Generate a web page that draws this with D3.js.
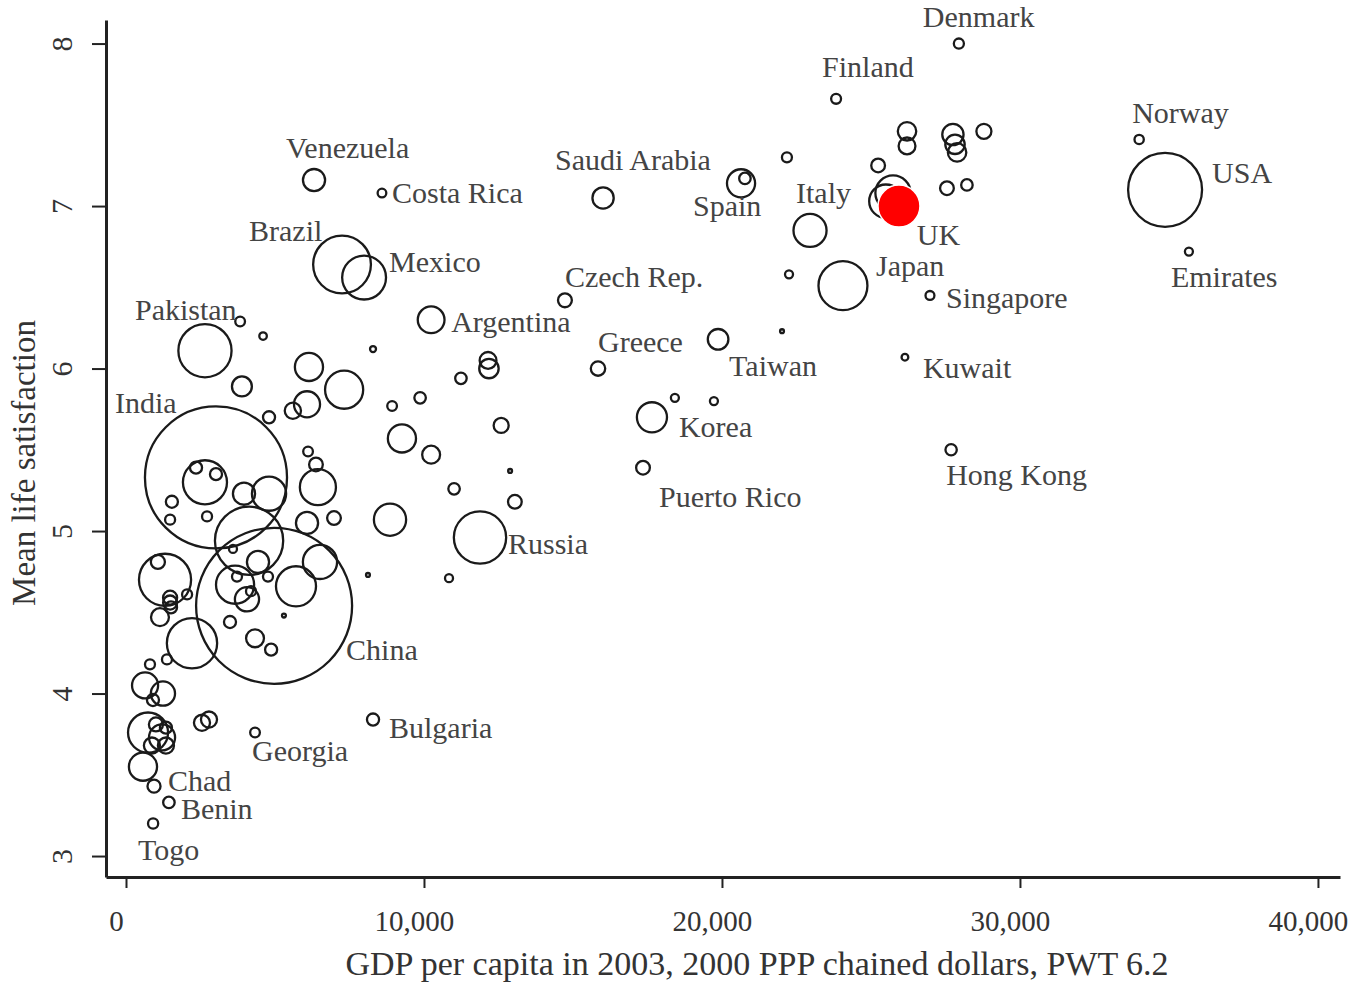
<!DOCTYPE html>
<html>
<head>
<meta charset="utf-8">
<script src="https://cdn.jsdelivr.net/npm/d3@7"></script>
<style>
  body { margin: 0; background: #fff; }
  text { font-family: "Liberation Serif", "DejaVu Serif", serif; }
</style>
</head>
<body>
<script>
// countries ('' = unlabelled), GDP per capita 2003, mean life satisfaction, population (millions)
const countries = [
  "Denmark", "Finland", "Norway", "USA", "Emirates", "Saudi Arabia", "Spain", "", "Italy", "UK", "",
  "Japan", "Singapore", "Kuwait", "Hong Kong", "Taiwan", "Greece", "Czech Rep.", "Korea", "Puerto Rico",
  "Russia", "Argentina", "Mexico", "Brazil", "Costa Rica", "Venezuela", "Pakistan", "India", "China",
  "Bulgaria", "Georgia", "Chad", "Benin", "Togo",
  "", "", "", "", "", "", "", "", "", "", "", "", "", "", "", "", "", "", "", "", "", "", "", "", "",
  "", "", "", "", "", "", "", "", "", "", "", "", "", "", "", "", "", "", "", "", "", "", "", "", "",
  "", "", "", "", "", "", "", "", "", "", "", "", "", "", "", "", "", "", "", "", "", "", "", "", "",
  "", "", "", "", "", "", "", "", "", "", ""
];
const gdp = [
  27950, 23830, 34000, 34870, 35670, 16010, 20640, 20770, 22955, 25500, 25740,
  24060, 26980, 26140, 27690, 19870, 15840, 14730, 17650, 17350,
  11880, 10240, 7990, 7250, 8590, 6310, 2650, 3020, 4970,
  8290, 4330, 940, 1440, 910,
  22180, 26210, 26210, 27750, 27820, 27890, 28790, 25240, 27550, 28220, 22250, 22015, 18420, 19730, 8290,
  12150, 12180, 11240, 9870, 8930, 12590, 9260, 10240, 12890, 11010, 13050, 8860, 10840, 8120, 4600,
  6140, 7320, 3890, 6075, 5600, 4800, 3830, 6110, 6375, 6440, 3960, 4800, 6075, 6980, 2650, 2350,
  3020, 1540, 2720, 1480, 4130, 3590, 4430, 6510, 5705, 3660, 4060, 3725, 4195, 4765, 5300, 3490,
  4330, 4870, 2215, 1310, 1070, 1480, 1480, 1510, 2050, 1140, 1375, 805, 640, 1240, 905, 2550, 2785,
  740, 1210, 1005, 870, 1340, 1340, 570, 1110
];
const lifeSat = [
  8.00, 7.66, 7.41, 7.10, 6.72, 7.05, 7.14, 7.17, 6.85, 7.03, 7.08,
  6.51, 6.45, 6.07, 5.50, 6.18, 6.00, 6.42, 5.70, 5.39,
  4.96, 6.30, 6.56, 6.64, 7.08, 7.16, 6.11, 5.33, 4.54,
  3.84, 3.76, 3.43, 3.33, 3.20,
  7.30, 7.46, 7.37, 7.44, 7.38, 7.33, 7.46, 7.25, 7.11, 7.13, 6.58, 6.23, 5.82, 5.80, 6.12,
  6.05, 6.00, 5.94, 5.82, 5.77, 5.65, 5.57, 5.47, 5.37, 5.26, 5.18, 5.07, 4.71, 4.73, 6.20,
  6.01, 5.87, 5.89, 5.78, 5.74, 5.70, 6.29, 5.49, 5.41, 5.27, 5.23, 5.23, 5.05, 5.08, 5.30, 5.39,
  5.35, 5.18, 5.09, 5.07, 4.94, 4.89, 4.81, 4.81, 4.66, 4.67, 4.58, 4.72, 4.63, 4.72, 4.48, 4.44,
  4.34, 4.27, 4.31, 4.70, 4.81, 4.59, 4.56, 4.53, 4.61, 4.47, 4.21, 4.18, 4.05, 4.00, 3.96, 3.82, 3.84,
  3.76, 3.73, 3.81, 3.68, 3.68, 3.79, 3.55, 3.60
];
const population = [
  5.4, 5.2, 4.6, 290, 3.4, 24, 42, 7, 58, 59, 66,
  127, 4.2, 2.4, 6.8, 22.5, 11, 10.2, 48, 10,
  145, 38, 102, 177, 4, 26, 150, 1070, 1290,
  7.8, 5, 9, 7, 5.5,
  5.3, 18, 15, 24, 20, 18, 12, 10, 10, 7, 3.4, 0.8, 3.4, 3.4, 1.9,
  15, 20, 7, 7, 5, 12, 42, 17, 0.8, 7, 10, 55, 3.4, 0.8, 3,
  42, 77, 21, 36, 14, 7.7, 5, 5, 10, 69, 26, 62, 26, 10, 103, 7.7,
  7.7, 7.7, 5.3, 5.3, 247, 3.4, 26, 62, 85, 77, 31, 5.3, 5.3, 5.3, 0.8, 7.7,
  17, 7.7, 134, 144, 10.5, 10.5, 10.5, 7.7, 5.3, 17, 5.3, 5.3, 36, 31, 7.7, 13.7, 13.7,
  85, 36, 10.5, 13.7, 13.7, 7.7, 42, 13.7
];
// highlighted point (UK)
const highlightGdp = 25940;
const highlightSat = 7.00;

const xTicks = [0, 10000, 20000, 30000, 40000];
const yTicks = [3, 4, 5, 6, 7, 8];

// label placement relative to the circle centre (px)
const labelOffset = {
  "Denmark": [-36, -17], "Finland": [-14, -22], "Norway": [-7, -16], "USA": [47, -7],
  "Emirates": [-18, 35], "Saudi Arabia": [-48, -28], "Spain": [-48, 33], "Italy": [-14, -27],
  "UK": [31, 44], "Japan": [33, -10], "Singapore": [16, 13], "Kuwait": [18, 21],
  "Hong Kong": [-5, 35], "Taiwan": [11, 37], "Greece": [0, -17], "Czech Rep.": [0, -13],
  "Korea": [27, 20], "Puerto Rico": [16, 39], "Russia": [28, 16], "Argentina": [20, 12],
  "Mexico": [25, -6], "Brazil": [-93, -24], "Costa Rica": [10, 10], "Venezuela": [-28, -22],
  "Pakistan": [-70, -31], "India": [-101, -64], "China": [72, 54], "Bulgaria": [16, 18],
  "Georgia": [-3, 28], "Chad": [14, 5], "Benin": [12, 17], "Togo": [-15, 36]
};

const data = countries.map((c, i) => ({name: c, gdp: gdp[i], sat: lifeSat[i], pop: population[i]}));

const width = 1352, height = 987;
const svg = d3.select("body").append("svg")
  .attr("width", width)
  .attr("height", height);

const x = d3.scaleLinear().domain([-671, 40740]).range([106, 1340]);
const y = d3.scaleLinear().domain([2.871, 8.145]).range([877, 20]);
const r = d3.scaleSqrt().domain([0, 1290]).range([0, 78]);

// axes
const xAxis = svg.append("g")
  .attr("transform", "translate(0,877)")
  .call(d3.axisBottom(x).tickValues(xTicks).tickFormat(d3.format(",")).tickSize(11).tickSizeOuter(0));
xAxis.select(".domain").attr("stroke", "#222").attr("stroke-width", 3);
xAxis.selectAll(".tick line").attr("stroke", "#222").attr("stroke-width", 2);
xAxis.selectAll(".tick text")
  .attr("y", 54).attr("dy", 0).attr("dx", -10)
  .attr("font-size", 29).attr("fill", "#333")
  .attr("font-family", "Liberation Serif");

const yAxis = svg.append("g")
  .attr("transform", "translate(106,0)")
  .call(d3.axisLeft(y).tickValues(yTicks).tickFormat(d3.format("d")).tickSize(14).tickSizeOuter(0));
yAxis.select(".domain").attr("stroke", "#222").attr("stroke-width", 3);
yAxis.selectAll(".tick line").attr("stroke", "#222").attr("stroke-width", 2);
yAxis.selectAll(".tick text")
  .attr("x", null).attr("dy", 0)
  .attr("transform", "translate(-34,0) rotate(-90)")
  .attr("text-anchor", "middle")
  .attr("font-size", 30).attr("fill", "#333")
  .attr("font-family", "Liberation Serif");

// axis titles
svg.append("text")
  .attr("x", 757).attr("y", 975)
  .attr("text-anchor", "middle")
  .attr("font-size", 34).attr("fill", "#333")
  .text("GDP per capita in 2003, 2000 PPP chained dollars, PWT 6.2");

svg.append("text")
  .attr("transform", "translate(35,463) rotate(-90)")
  .attr("text-anchor", "middle")
  .attr("font-size", 33).attr("fill", "#333")
  .text("Mean life satisfaction");

// bubbles
svg.append("g").selectAll("circle")
  .data(data)
  .enter().append("circle")
  .attr("cx", d => x(d.gdp))
  .attr("cy", d => y(d.sat))
  .attr("r", d => r(d.pop))
  .attr("fill", "none")
  .attr("stroke", "#1a1a1a")
  .attr("stroke-width", 2.3);

// highlighted UK dot
svg.append("circle")
  .attr("cx", x(highlightGdp))
  .attr("cy", y(highlightSat))
  .attr("r", 21)
  .attr("fill", "#ff0000")
  .attr("stroke", "#fff")
  .attr("stroke-width", 1.5);

// labels
svg.append("g").selectAll("text")
  .data(data.filter(d => d.name !== ""))
  .enter().append("text")
  .attr("x", d => x(d.gdp) + labelOffset[d.name][0])
  .attr("y", d => y(d.sat) + labelOffset[d.name][1])
  .attr("font-size", 30)
  .attr("fill", "#444")
  .text(d => d.name);
</script>
</body>
</html>
